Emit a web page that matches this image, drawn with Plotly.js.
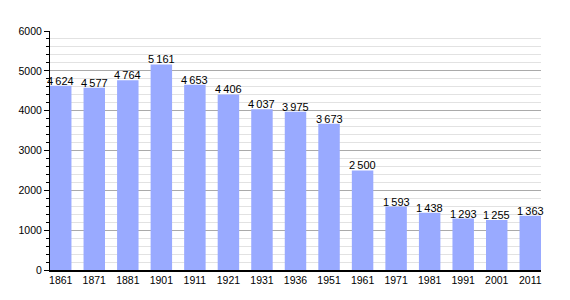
<!DOCTYPE html>
<html>
<head>
<meta charset="utf-8">
<script src="https://cdn.plot.ly/plotly-3.0.1.min.js"></script>
<style>html,body{margin:0;padding:0;background:#fff;}#chart{width:570px;height:300px;}</style>
</head>
<body>
<div id="chart"></div>
<script>
const years = ["1861","1871","1881","1901","1911","1921","1931","1936","1951","1961","1971","1981","1991","2001","2011"];
const population = [4624,4577,4764,5161,4653,4406,4037,3975,3673,2500,1593,1438,1293,1255,1363];
const yTicks = [0,1000,2000,3000,4000,5000,6000];

const labels = population.map(v => {
  const s = String(v);
  return s.length > 3 ? s.slice(0, s.length - 3) + "\u2009" + s.slice(-3) : s;
});

const trace = {
  type: "bar",
  x: years,
  y: population,
  marker: {color: "#99aaff", line: {width: 0}},
  width: 0.64,
  hoverinfo: "x+y"
};

// category axis: position annotations by category index
const annotations = years.map((yr, i) => ({
  x: i, y: population[i], xref: "x", yref: "y",
  text: labels[i], showarrow: false,
  xanchor: "center", yanchor: "bottom", yshift: -2, borderpad: 0,
  font: {family: "Liberation Sans, Arial, sans-serif", size: 11, color: "#000"}
}));

const layout = {
  width: 570, height: 300,
  margin: {l: 50, r: 29, t: 31, b: 30},
  paper_bgcolor: "#fff",
  plot_bgcolor: "#fff",
  showlegend: false,
  font: {family: "Liberation Sans, Arial, sans-serif", size: 10.5, color: "#000"},
  xaxis: {
    type: "category",
    range: [-0.32, 14.32],
    showline: true, linecolor: "#000", linewidth: 1.5,
    showgrid: false, ticks: "", ticklen: 0,
    tickfont: {size: 10.5, color: "#000"},
    zeroline: false
  },
  yaxis: {
    range: [0, 6000],
    tickvals: yTicks,
    ticktext: yTicks.map(String),
    showline: true, linecolor: "#000", linewidth: 1,
    showgrid: true, gridcolor: "#aaaaaa", gridwidth: 1,
    ticks: "outside", ticklen: 5, tickcolor: "#000",
    tickfont: {size: 10.5, color: "#000"},
    zeroline: false,
    minor: {dtick: 200, showgrid: true, gridcolor: "#e2e2e2", gridwidth: 1, ticks: "outside", ticklen: 3, tickcolor: "#000"}
  },
  annotations: annotations,
  bargap: 0.36
};

Plotly.newPlot("chart", [trace], layout, {displayModeBar: false, staticPlot: true});
</script>
</body>
</html>
